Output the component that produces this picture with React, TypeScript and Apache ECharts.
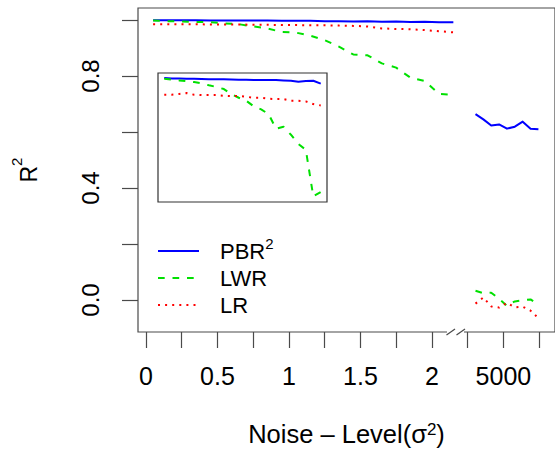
import React, { useEffect, useRef } from "react";
import * as echarts from "echarts";

// ---------- data ----------
// left segment: noise level sigma^2
const mainNoise = [0.05, 0.15, 0.25, 0.35, 0.45, 0.55, 0.65, 0.75, 0.85, 0.95, 1.05, 1.15, 1.25, 1.35, 1.45, 1.55, 1.65, 1.75, 1.85, 1.95, 2.05, 2.15];
const pbrMain = [0.999, 0.999, 0.999, 0.999, 0.998, 0.998, 0.998, 0.998, 0.998, 0.997, 0.997, 0.997, 0.996, 0.996, 0.995, 0.996, 0.994, 0.995, 0.993, 0.994, 0.992, 0.992];
const lwrMain = [0.998, 0.996, 0.995, 0.993, 0.992, 0.988, 0.985, 0.977, 0.970, 0.957, 0.955, 0.944, 0.928, 0.905, 0.877, 0.874, 0.845, 0.830, 0.794, 0.782, 0.736, 0.733];
const lrMain = [0.985, 0.985, 0.985, 0.985, 0.984, 0.984, 0.984, 0.983, 0.983, 0.982, 0.982, 0.981, 0.981, 0.980, 0.979, 0.977, 0.970, 0.968, 0.967, 0.964, 0.960, 0.956];

// right segment (after the axis break), noise level around 5000
const rightNoise = [4610, 4720, 4830, 4940, 5050, 5160, 5270, 5380, 5490];
const pbrRight = [0.664, 0.645, 0.623, 0.627, 0.612, 0.619, 0.637, 0.612, 0.610];
const lwrRight = [0.033, 0.024, 0.026, 0.004, -0.021, -0.005, -0.001, 0.002, -0.017];
const lrRight = [-0.013, 0.009, -0.023, -0.027, -0.010, -0.026, -0.024, -0.038, -0.065];

// inset panel (same noise levels, magnified R^2 scale)
const pbrInset = [0.9990, 0.9987, 0.9986, 0.9984, 0.9983, 0.9981, 0.9980, 0.9979, 0.9979, 0.9977, 0.9976, 0.9976, 0.9974, 0.9973, 0.9973, 0.9973, 0.9970, 0.9967, 0.9959, 0.9964, 0.9967, 0.9942];
const lwrInset = [0.9984, 0.9976, 0.9970, 0.9964, 0.9956, 0.9945, 0.9928, 0.9914, 0.9896, 0.9854, 0.9822, 0.9797, 0.9749, 0.9723, 0.9683, 0.9558, 0.9575, 0.9507, 0.9428, 0.9379, 0.8982, 0.9019];
const lrInset = [0.9848, 0.9848, 0.9854, 0.9862, 0.9848, 0.9845, 0.9845, 0.9845, 0.9839, 0.9837, 0.9837, 0.9831, 0.9822, 0.9822, 0.9814, 0.9811, 0.9811, 0.9797, 0.9797, 0.9791, 0.9768, 0.9757];

// ticks / labels
const xTickValues = [0, 0.25, 0.5, 0.75, 1, 1.25, 1.5, 1.75, 2, 2.25, 2.5, 2.75];
const xLabelValues = [0, 0.5, 1, 1.5, 2, 2.5];
const xLabelTexts = ["0", "0.5", "1", "1.5", "2", "5000"];
const yTickValues = [0, 0.2, 0.4, 0.6, 0.8, 1.0];
const yLabelValues = [0, 0.4, 0.8];
const yLabelTexts = ["0.0", "0.4", "0.8"];
const seriesNames = ["PBR", "LWR", "LR"];

// axis-break mapping: noise 5000 sits at axis position 2.5
const BREAK_POS = 2.5;
const BREAK_REF = 5000;
const BREAK_SPAN = 2000;

const FONT = '"Liberation Sans", Arial, Helvetica, sans-serif';
const BLUE = "#0000ff";
const GREEN = "#00e000";
const RED = "#ff0000";
const AXIS = "#4a4a4a";
const DASH = [6.7, 7.8];
const DOT = [2, 5.1];

const zip = (xs: number[], ys: number[]) => xs.map((x, i) => [x, ys[i]]);
const rightPos = (s: number) => BREAK_POS + (s - BREAK_REF) / BREAK_SPAN;
const pick = (vals: number[], texts: string[]) => (v: number) => {
  const i = vals.findIndex((x) => Math.abs(x - v) < 1e-9);
  return i >= 0 ? texts[i] : "";
};

export default function App() {
  const ref = useRef<HTMLDivElement>(null);
  useEffect(() => {
    if (!ref.current) return;
    const chart = echarts.init(ref.current, undefined, { renderer: "svg" });

    const line = (name: string, data: number[][], color: string, type: any, axisIdx: number) => ({
      type: "line",
      name,
      data,
      xAxisIndex: axisIdx,
      yAxisIndex: axisIdx,
      symbol: "none",
      showSymbol: false,
      silent: true,
      z: 5,
      lineStyle: { color, width: 2, type, cap: "butt", join: "round" },
    });

    const rightX = rightNoise.map(rightPos);

    // superscript rich styles; `raise` lifts the superscript relative to the main text
    const richText = (size: number, supSize: number, raise: number) => ({
      m: { fontSize: size, fontFamily: FONT, color: "#000", padding: [raise, 0, 0, 0] },
      s: { fontSize: supSize, fontFamily: FONT, color: "#000", verticalAlign: "top" },
    });

    const option: any = {
      animation: false,
      backgroundColor: "#ffffff",
      grid: [
        { left: 138, top: 8, width: 420, height: 324, show: true, borderColor: AXIS, borderWidth: 1.2, backgroundColor: "transparent" },
        { left: 158, top: 73, width: 169, height: 129, show: true, borderColor: "#333", borderWidth: 1.2, backgroundColor: "transparent" },
      ],
      xAxis: [
        {
          type: "value",
          gridIndex: 0,
          min: -0.0556,
          max: 2.861,
          axisLine: { show: false, onZero: false },
          splitLine: { show: false },
          axisTick: { show: true, length: 16, inside: false, customValues: xTickValues, lineStyle: { color: AXIS, width: 1.2 } },
          axisLabel: {
            show: true,
            customValues: xLabelValues,
            formatter: pick(xLabelValues, xLabelTexts),
            margin: 31,
            fontSize: 25,
            fontFamily: FONT,
            color: "#000",
          },
          name: "{m|Noise – Level(σ}{s|2}{m|)}",
          nameLocation: "middle",
          nameGap: 89,
          nameMoveOverlap: false,
          nameTextStyle: { rich: richText(25.5, 17, 0) },
        },
        {
          type: "value",
          gridIndex: 1,
          min: -0.034,
          max: 2.234,
          show: false,
        },
      ],
      yAxis: [
        {
          type: "value",
          gridIndex: 0,
          min: -0.1143,
          max: 1.0429,
          axisLine: { show: false, onZero: false },
          splitLine: { show: false },
          axisTick: { show: true, length: 16, inside: false, customValues: yTickValues, lineStyle: { color: AXIS, width: 1.2 } },
          axisLabel: {
            show: true,
            customValues: yLabelValues,
            formatter: pick(yLabelValues, yLabelTexts),
            rotate: 90,
            margin: 36,
            fontSize: 24,
            fontFamily: FONT,
            color: "#000",
          },
          name: "{m|R}{s|2}",
          nameLocation: "middle",
          nameRotate: 90,
          nameGap: 98,
          nameMoveOverlap: false,
          nameTextStyle: { rich: richText(23, 15, 8) },
        },
        {
          type: "value",
          gridIndex: 1,
          min: 0.8934,
          max: 1.0033,
          show: false,
        },
      ],
      series: [
        line(seriesNames[0], zip(mainNoise, pbrMain), BLUE, "solid", 0),
        line(seriesNames[1], zip(mainNoise, lwrMain), GREEN, DASH, 0),
        line(seriesNames[2], zip(mainNoise, lrMain), RED, DOT, 0),
        line(seriesNames[0] + " (5000)", zip(rightX, pbrRight), BLUE, "solid", 0),
        line(seriesNames[1] + " (5000)", zip(rightX, lwrRight), GREEN, DASH, 0),
        line(seriesNames[2] + " (5000)", zip(rightX, lrRight), RED, DOT, 0),
        line(seriesNames[0] + " inset", zip(mainNoise, pbrInset), BLUE, "solid", 1),
        line(seriesNames[1] + " inset", zip(mainNoise, lwrInset), GREEN, DASH, 1),
        line(seriesNames[2] + " inset", zip(mainNoise, lrInset), RED, DOT, 1),
      ],
      graphic: [
        // axis break
        { type: "rect", z: 100, shape: { x: 447, y: 329, width: 17, height: 5 }, style: { fill: "#fff" } },
        { type: "line", z: 101, shape: { x1: 446.5, y1: 335, x2: 455, y2: 329 }, style: { stroke: AXIS, lineWidth: 1.2 } },
        { type: "line", z: 101, shape: { x1: 456.5, y1: 335, x2: 465, y2: 329 }, style: { stroke: AXIS, lineWidth: 1.2 } },
        // legend
        { type: "line", z: 100, shape: { x1: 158, y1: 251, x2: 199, y2: 251 }, style: { stroke: BLUE, lineWidth: 2 } },
        { type: "line", z: 100, shape: { x1: 158, y1: 278, x2: 199, y2: 278 }, style: { stroke: GREEN, lineWidth: 2, lineDash: DASH } },
        { type: "line", z: 100, shape: { x1: 158, y1: 305, x2: 199, y2: 305 }, style: { stroke: RED, lineWidth: 2, lineDash: DOT } },
        {
          type: "text", z: 100, x: 220, y: 249,
          style: { text: "{m|" + seriesNames[0] + "}{s|2}", rich: richText(22, 15, 5), verticalAlign: "middle", align: "left" },
        },
        {
          type: "text", z: 100, x: 220, y: 278,
          style: { text: seriesNames[1], fontSize: 22, fontFamily: FONT, fill: "#000", verticalAlign: "middle", align: "left" },
        },
        {
          type: "text", z: 100, x: 220, y: 305,
          style: { text: seriesNames[2], fontSize: 22, fontFamily: FONT, fill: "#000", verticalAlign: "middle", align: "left" },
        },
      ],
    };

    chart.setOption(option);
    return () => chart.dispose();
  }, []);

  return (
    <div
      ref={ref}
      style={{ position: "fixed", left: 0, top: 0, width: 555, height: 452, background: "#fff" }}
    />
  );
}
